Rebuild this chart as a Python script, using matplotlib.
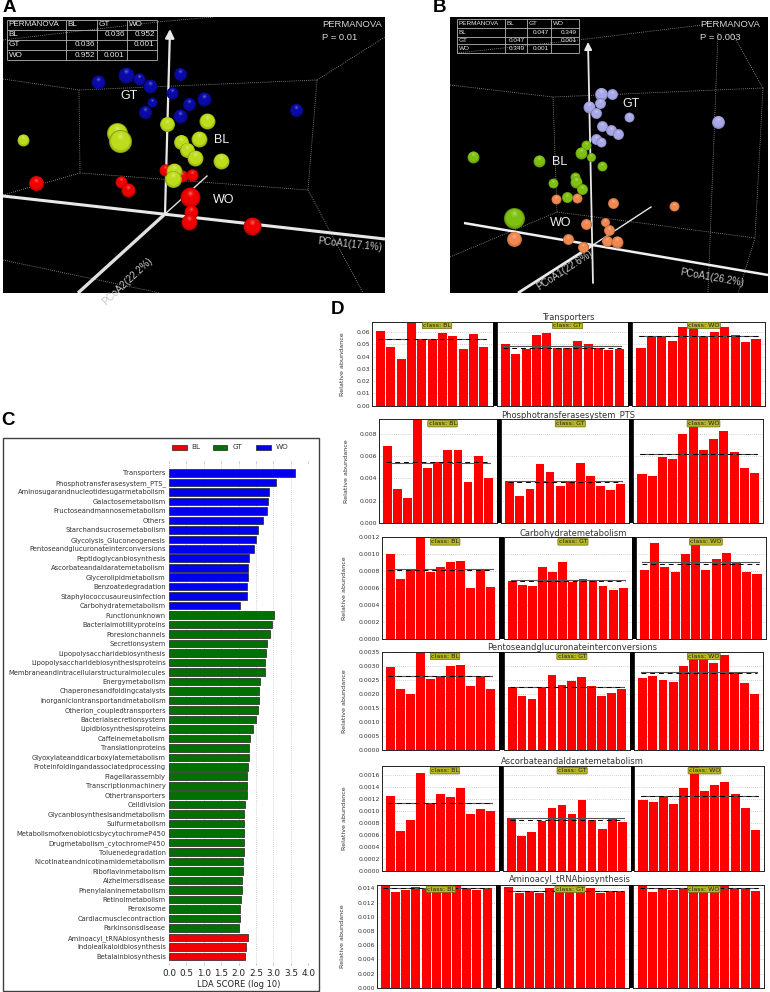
import matplotlib
matplotlib.use('Agg')
import matplotlib.pyplot as plt
from matplotlib.patches import Rectangle
import numpy as np

plt.rcParams['font.family'] = ['DejaVu Sans']

W, H = 770, 992
fig = plt.figure(figsize=(W / 100, H / 100), dpi=100, facecolor='white')

# Panel A points (projected ordination coordinates)
a_gt_x = [98, 126, 139, 150, 180, 172, 152, 145, 189, 180, 204, 296]
a_gt_y = [82, 75, 79, 86, 74, 93, 102, 112, 104, 116, 99, 110]
a_gt_r = [7, 8, 6, 7, 6.5, 6, 5, 6.5, 6.5, 7, 7, 6.5]
a_bl_x = [23, 117, 120, 167, 207, 181, 199, 187, 195, 221, 174, 173]
a_bl_y = [140, 133, 141, 124, 121, 142, 139, 150, 158, 161, 171, 179]
a_bl_r = [6, 10.5, 11.5, 7.5, 8, 7.5, 8, 7.5, 8, 8, 8, 8.5]
a_wo_x = [36, 121, 128, 165, 182, 192, 190, 191, 189, 252]
a_wo_y = [183, 182, 190, 170, 176, 175, 197, 212, 222, 226]
a_wo_r = [7.5, 6, 7, 6, 6, 6, 10, 7, 8, 9]

# Panel B points
b_gt_x = [601, 612, 600, 589, 596, 629, 602, 611, 618, 596, 601, 718]
b_gt_y = [94, 94, 103, 107, 113, 117, 126, 130, 134, 139, 142, 122]
b_gt_r = [6.5, 5.5, 5.5, 6, 5.5, 5, 5.5, 5.5, 5.5, 5.5, 5, 6.5]
b_bl_x = [473, 539, 586, 581, 591, 602, 553, 575, 576, 582, 567, 514]
b_bl_y = [157, 161, 145, 153, 157, 166, 183, 177, 182, 189, 197, 218]
b_bl_r = [6, 6, 5, 6, 4.5, 5, 5, 5, 6, 5.5, 5.5, 10.5]
b_wo_x = [556, 577, 613, 674, 586, 605, 609, 514, 568, 583, 607, 617]
b_wo_y = [199, 198, 203, 206, 224, 222, 230, 239, 239, 247, 241, 242]
b_wo_r = [5, 5, 5.5, 5, 5.5, 4.5, 5.5, 7.5, 5.5, 5.5, 5.5, 6]

# dotted wire box of the 3D views
a_box = [[(3, 79), (79, 90), (317, 80)], [(79, 90), (80, 173), (308, 190), (317, 80)],
         [(3, 195), (80, 173)], [(317, 80), (385, 37)], [(3, 40), (157, 22), (213, 17)],
         [(308, 190), (363, 293)], [(3, 260), (160, 293)]]
b_box = [[(450, 85), (553, 97), (763, 88)], [(553, 97), (557, 212)], [(763, 88), (755, 238)],
         [(557, 212), (755, 238)], [(450, 257), (557, 212)], [(763, 88), (732, 33)],
         [(457, 53), (578, 40), (702, 25)], [(718, 33), (708, 293)], [(755, 238), (738, 293)]]

table_header = ['PERMANOVA', 'BL', 'GT', 'WO']
a_table = [['BL', '', '0.036', '0.952'], ['GT', '0.036', '', '0.001'], ['WO', '0.952', '0.001', '']]
b_table = [['BL', '', '0.047', '0.349'], ['GT', '0.047', '', '0.001'], ['WO', '0.349', '0.001', '']]

# Panel C
lda_names = [
    'Transporters', 'Phosphotransferasesystem_PTS_', 'Aminosugarandnucleotidesugarmetabolism',
    'Galactosemetabolism', 'Fructoseandmannosemetabolism', 'Others', 'Starchandsucrosemetabolism',
    'Glycolysis_Gluconeogenesis', 'Pentoseandglucuronateinterconversions', 'Peptidoglycanbiosynthesis',
    'Ascorbateandaldaratemetabolism', 'Glycerolipidmetabolism', 'Benzoatedegradation',
    'Staphylococcusaureusinfection', 'Carbohydratemetabolism',
    'Functionunknown', 'Bacterialmotilityproteins', 'Poresionchannels', 'Secretionsystem',
    'Lipopolysaccharidebiosynthesis', 'Lipopolysaccharidebiosynthesisproteins',
    'Membraneandintracellularstructuralmolecules', 'Energymetabolism', 'Chaperonesandfoldingcatalysts',
    'Inorganiciontransportandmetabolism', 'Otherion_coupledtransporters', 'Bacterialsecretionsystem',
    'Lipidbiosynthesisproteins', 'Caffeinemetabolism', 'Translationproteins',
    'Glyoxylateanddicarboxylatemetabolism', 'Proteinfoldingandassociatedprocessing', 'Flagellarassembly',
    'Transcriptionmachinery', 'Othertransporters', 'Celldivision', 'Glycanbiosynthesisandmetabolism',
    'Sulfurmetabolism', 'MetabolismofxenobioticsbycytochromeP450', 'Drugmetabolism_cytochromeP450',
    'Toluenedegradation', 'Nicotinateandnicotinamidemetabolism', 'Riboflavinmetabolism',
    'Alzheimersdisease', 'Phenylalaninemetabolism', 'Retinolmetabolism', 'Peroxisome',
    'Cardiacmusclecontraction', 'Parkinsonsdisease',
    'Aminoacyl_tRNAbiosynthesis', 'Indolealkaloidbiosynthesis', 'Betalainbiosynthesis',
]
lda_wo = [3.61, 3.08, 2.88, 2.85, 2.81, 2.70, 2.555, 2.50, 2.45, 2.31, 2.28, 2.26, 2.25, 2.24, 2.04]
lda_gt = [3.01, 2.95, 2.90, 2.80, 2.79, 2.77, 2.76, 2.62, 2.59, 2.57, 2.55, 2.51, 2.40, 2.34, 2.31, 2.29,
          2.27, 2.24, 2.24, 2.23, 2.17, 2.16, 2.15, 2.15, 2.14, 2.14, 2.12, 2.115, 2.105, 2.085, 2.06,
          2.04, 2.03, 2.02]
lda_bl = [2.28, 2.20, 2.18]
lda_ticks = [0.0, 0.5, 1.0, 1.5, 2.0, 2.5, 3.0, 3.5, 4.0]

# Panel D, each feature: samples per class, then solid and dashed mean lines
d_titles = ['Transporters', 'Phosphotransferasesystem_PTS_', 'Carbohydratemetabolism',
            'Pentoseandglucuronateinterconversions', 'Ascorbateandaldaratemetabolism',
            'Aminoacyl_tRNAbiosynthesis']
d_classes = ['BL', 'GT', 'WO']
d_bl = [
    [0.061, 0.048, 0.038, 0.0735, 0.054, 0.054, 0.0595, 0.0565, 0.0465, 0.058, 0.048],
    [0.0069, 0.0031, 0.0023, 0.0095, 0.0049, 0.0055, 0.0065, 0.0065, 0.0037, 0.0060, 0.0040],
    [0.0010, 0.00071, 0.00081, 0.00125, 0.00079, 0.00085, 0.00091, 0.00092, 0.00060, 0.00082, 0.00061],
    [0.00297, 0.00217, 0.00201, 0.0036, 0.00254, 0.00262, 0.00300, 0.00302, 0.00229, 0.00262, 0.00219],
    [0.00124, 0.00066, 0.00085, 0.00163, 0.00112, 0.00127, 0.00123, 0.00138, 0.00095, 0.00102, 0.00099],
    [0.0143, 0.0135, 0.0138, 0.0142, 0.0140, 0.0140, 0.0146, 0.0146, 0.0139, 0.0138, 0.0141],
]
d_gt = [
    [0.050, 0.0425, 0.046, 0.0575, 0.059, 0.047, 0.047, 0.053, 0.050, 0.047, 0.045, 0.046],
    [0.0038, 0.0024, 0.0031, 0.0053, 0.0046, 0.0033, 0.0038, 0.0054, 0.0042, 0.0033, 0.0030, 0.0035],
    [0.00069, 0.00064, 0.00062, 0.00085, 0.00079, 0.00091, 0.00067, 0.00071, 0.00070, 0.00062, 0.00058, 0.00060],
    [0.00225, 0.00195, 0.00183, 0.00223, 0.00269, 0.00233, 0.00248, 0.00261, 0.00229, 0.00192, 0.00205, 0.00220],
    [0.00088, 0.00058, 0.00064, 0.00083, 0.00105, 0.00110, 0.00094, 0.00118, 0.00085, 0.00070, 0.00086, 0.00081],
    [0.0142, 0.0133, 0.0135, 0.0133, 0.0140, 0.0138, 0.0138, 0.0140, 0.0141, 0.0133, 0.0137, 0.0137],
]
d_wo = [
    [0.047, 0.0565, 0.056, 0.053, 0.064, 0.0645, 0.056, 0.060, 0.064, 0.0575, 0.052, 0.054],
    [0.0044, 0.0042, 0.0059, 0.0057, 0.0080, 0.0088, 0.0065, 0.0075, 0.0082, 0.0064, 0.0049, 0.0045],
    [0.00082, 0.00113, 0.00085, 0.00079, 0.00100, 0.00113, 0.00082, 0.00094, 0.00101, 0.00091, 0.00079, 0.00077],
    [0.00257, 0.00266, 0.00250, 0.00243, 0.00301, 0.00335, 0.00330, 0.00312, 0.00338, 0.00279, 0.00238, 0.00199],
    [0.00117, 0.00115, 0.00123, 0.00111, 0.00137, 0.00178, 0.00132, 0.00142, 0.00147, 0.00127, 0.00104, 0.00068],
    [0.0143, 0.0135, 0.0141, 0.0138, 0.0141, 0.0146, 0.0141, 0.0139, 0.0144, 0.0141, 0.0141, 0.0136],
]
d_solid = [[0.054, 0.049, 0.057], [0.0054, 0.0038, 0.0062], [0.00083, 0.00070, 0.00091],
           [0.00263, 0.00224, 0.00279], [0.00112, 0.00087, 0.00125], [0.0141, 0.0137, 0.0140]]
d_dashed = [[0.054, 0.047, 0.0565], [0.0055, 0.0037, 0.0062], [0.00081, 0.00069, 0.00088],
            [0.00263, 0.00224, 0.00274], [0.00112, 0.00085, 0.00125], [0.0141, 0.0137, 0.0140]]
d_ymax = [0.0684, 0.0093, 0.0012, 0.0035, 0.001744, 0.01452]
d_ystep = [0.01, 0.002, 0.0002, 0.0005, 0.0002, 0.002]
d_yfmt = ['%.2f', '%.3f', '%.4f', '%.4f', '%.4f', '%.3f']
d_ylabel_x = [342, 346, 344, 345, 344, 343]


def px_axes(left, top, right, bottom, **kwargs):
    # axes placed by its pixel box, y measured from the top of the image
    return fig.add_axes([left / W, 1 - bottom / H, (right - left) / W, (bottom - top) / H], **kwargs)


def px_rect(left, top, right, bottom, **kwargs):
    fig.add_artist(Rectangle((left / W, 1 - bottom / H), (right - left) / W, (bottom - top) / H,
                             transform=fig.transFigure, **kwargs))


def fig_text(x, y, s, **kwargs):
    fig.text(x / W, 1 - y / H, s, **kwargs)


def spheres(ax, xs, ys, rs, base, z):
    # fake the shading with shrinking discs moved towards the light
    base = np.array(matplotlib.colors.to_rgb(base))
    dark = base * 0.72
    for x, y, r in zip(xs, ys, rs):
        z += 1
        ax.scatter(x, y, s=(2 * r * 0.72) ** 2, color=dark, linewidths=0, zorder=z)
        for frac, mix in [(0.92, 0.6), (0.82, 1.0)]:
            z += 0.1
            c = dark + (base - dark) * mix
            ax.scatter(x, y - r * (1 - frac) * 0.5, s=(2 * r * frac * 0.72) ** 2, color=c, linewidths=0, zorder=z)
        for frac, mix in [(0.32, 0.12), (0.14, 0.35)]:
            z += 0.1
            c = base + (1 - base) * mix
            ax.scatter(x, y - r * 0.45, s=(2 * r * frac * 0.72) ** 2, color=c, linewidths=0, zorder=z)
    return z


def draw_table(ax, xs, ys, rows, size):
    ax.hlines(ys, xs[0], xs[-1], color='#b4b4b4', lw=0.6, zorder=60)
    ax.vlines(xs, ys[0], ys[-1], color='#b4b4b4', lw=0.6, zorder=60)
    for j, label in enumerate(table_header):
        ax.text(xs[j] + 2, (ys[0] + ys[1]) / 2, label, color='#e8e8e8', fontsize=size, va='center',
                family='Liberation Sans', zorder=61)
    for i, row in enumerate(rows):
        ymid = (ys[i + 1] + ys[i + 2]) / 2
        ax.text(xs[0] + 2, ymid, row[0], color='#e8e8e8', fontsize=size, va='center',
                family='Liberation Sans', zorder=61)
        for j in range(1, 4):
            ax.text(xs[j + 1] - 2, ymid, row[j], color='#e8e8e8', fontsize=size, va='center', ha='right',
                    family='Liberation Sans', zorder=61)


def pcoa_panel(box, wire):
    ax = px_axes(*box, facecolor='black')
    ax.set_xlim(box[0], box[2])
    ax.set_ylim(box[3], box[1])
    ax.set_xticks([])
    ax.set_yticks([])
    for s in ax.spines.values():
        s.set_visible(False)
    for seg in wire:
        ax.plot(*zip(*seg), color='#9a9a9a', lw=0.6, ls=(0, (1, 1.5)), zorder=1)
    return ax


def label3d(ax, x, y, s, size=9, **kwargs):
    ax.text(x, y, s, color=kwargs.pop('color', '#f0f0f0'), fontsize=size, family='Liberation Sans',
            ha='center', va='center', zorder=80, **kwargs)


# Panel A
fig_text(3, 8, 'A', fontsize=13.5, fontweight='bold', family='Liberation Sans', ha='left', va='center')
ax_a = pcoa_panel((3, 17, 385, 293), a_box)
ax_a.plot([3, 385], [196, 239], color='#e8e8e8', lw=2.2, zorder=3, solid_capstyle='butt')
ax_a.plot([165, 78], [214, 293], color='#e0e0e0', lw=2.4, zorder=3, solid_capstyle='butt')
ax_a.plot([165, 207], [214, 176], color='#e0e0e0', lw=1.0, zorder=3)
ax_a.annotate('', xy=(170, 29), xytext=(165, 214), zorder=3,
              arrowprops=dict(arrowstyle='-|>', color='#e8e8e8', lw=1.6, shrinkA=0, shrinkB=0, mutation_scale=13))
z = spheres(ax_a, a_wo_x, a_wo_y, a_wo_r, '#f00000', 5)
z = spheres(ax_a, a_gt_x, a_gt_y, a_gt_r, '#0a0aa8', z)
spheres(ax_a, a_bl_x, a_bl_y, a_bl_r, '#bcdc1c', z)
label3d(ax_a, 129, 96, 'GT')
label3d(ax_a, 222, 140, 'BL')
label3d(ax_a, 224, 200, 'WO')
label3d(ax_a, 350, 244, 'PCoA1(17.1%)', size=7, color='#c8c8c8', rotation=-6)
label3d(ax_a, 127, 281, 'PCoA2(22.2%)', size=7, color='#c8c8c8', rotation=43)
ax_a.text(322, 24, 'PERMANOVA', color='#d8d8d8', fontsize=6.8, family='Liberation Sans', va='center')
ax_a.text(322, 37, 'P = 0.01', color='#d8d8d8', fontsize=6.8, family='Liberation Sans', va='center')
draw_table(ax_a, [6.7, 65.7, 96.7, 126.7, 156.7], [19.5, 30, 39.5, 50, 60], a_table, 5.9)

# Panel B
fig_text(433, 8, 'B', fontsize=13.5, fontweight='bold', family='Liberation Sans', ha='left', va='center')
ax_b = pcoa_panel((450, 17, 768, 293), b_box)
ax_b.plot([464, 768], [223, 275], color='#f0f0f0', lw=1.8, zorder=3, solid_capstyle='butt')
ax_b.plot([518, 593], [293, 245], color='#e8e8e8', lw=2.0, zorder=3, solid_capstyle='butt')
ax_b.plot([593, 651], [245, 207], color='#e8e8e8', lw=1.0, zorder=3)
ax_b.annotate('', xy=(588, 42), xytext=(593, 283), zorder=3,
              arrowprops=dict(arrowstyle='-|>', color='#e8e8e8', lw=1.3, shrinkA=0, shrinkB=0, mutation_scale=11))
z = spheres(ax_b, b_wo_x, b_wo_y, b_wo_r, '#f08850', 5)
z = spheres(ax_b, b_gt_x, b_gt_y, b_gt_r, '#a8a8e8', z)
spheres(ax_b, b_bl_x, b_bl_y, b_bl_r, '#7ec010', z)
label3d(ax_b, 631, 104, 'GT')
label3d(ax_b, 560, 162, 'BL')
label3d(ax_b, 561, 223, 'WO')
label3d(ax_b, 565, 270, 'PCoA1(22.6%)', size=7, color='#c8c8c8', rotation=33)
label3d(ax_b, 712, 278, 'PCoA1(26.2%)', size=7, color='#c8c8c8', rotation=-10)
ax_b.text(700, 24, 'PERMANOVA', color='#d8d8d8', fontsize=6.8, family='Liberation Sans', va='center')
ax_b.text(700, 37, 'P = 0.003', color='#d8d8d8', fontsize=6.8, family='Liberation Sans', va='center')
draw_table(ax_b, [457, 505, 527, 551, 579], [19, 28, 37, 44, 53], b_table, 4.6)

# Panel C
fig_text(1, 421, 'C', fontsize=13.5, fontweight='bold', family='Liberation Sans', ha='left', va='center')
px_rect(3, 437.5, 319, 991, facecolor='white', edgecolor='#404040', lw=1.0, zorder=-1)
ax_c = px_axes(169, 463, 308.3, 963)
lda_vals = lda_wo + lda_gt + lda_bl
lda_cols = ['#0000ee'] * len(lda_wo) + ['#007000'] * len(lda_gt) + ['#f00000'] * len(lda_bl)
lda_pos = np.arange(len(lda_vals))
ax_c.barh(lda_pos, lda_vals, height=0.8, color=lda_cols, edgecolor='#222222', linewidth=0.5, zorder=3)
ax_c.set_xlim(0, 4)
ax_c.set_ylim(51.7, -1.05)
ax_c.set_yticks(lda_pos)
ax_c.set_yticklabels(lda_names, fontsize=4.85, color='#333333')
ax_c.set_xticks(lda_ticks)
ax_c.set_xticklabels(['%.1f' % t for t in lda_ticks], fontsize=6.4, color='#222222')
ax_c.set_xlabel('LDA SCORE (log 10)', fontsize=6.0, color='#222222', labelpad=1.5)
ax_c.tick_params(axis='y', length=0, pad=2.3)
ax_c.tick_params(axis='x', length=1.5, width=0.4, color='#888888', pad=2.5, top=True)
ax_c.xaxis.grid(True, color='#aaaaaa', lw=0.5, ls=(0, (1, 2)), zorder=0)
for s in ax_c.spines.values():
    s.set_visible(False)

# legend of panel C
for x0, name, col in [(172, 'BL', '#f00000'), (213, 'GT', '#007000'), (256, 'WO', '#0000ee')]:
    px_rect(x0, 444.5, x0 + 14.5, 449.5, facecolor=col, edgecolor='#222222', lw=0.5)
    fig_text(x0 + 19.5, 447, name, fontsize=5.2, color='#333333', va='center')

# Panel D
fig_text(331, 310, 'D', fontsize=13.5, fontweight='bold', family='Liberation Sans', ha='left', va='center')
d_edges = [
    (371.7, 492.7, 496.7, 628, 632, 765, 321.7, 405.7, 568, 318),
    (379, 496.7, 501.3, 629, 633.3, 763.3, 419, 523.3, 570, 415),
    (381.7, 499.3, 504, 631.7, 635.7, 765.7, 537.3, 639, 573, 533),
    (381.7, 499, 503.7, 630, 634, 763.3, 652, 750.3, 572, 648),
    (381.7, 498.7, 503.3, 630.7, 634.3, 764.3, 766, 870.7, 572, 762),
    (376.7, 495.7, 500.3, 629.3, 633.3, 764.3, 884.7, 987.7, 570, 880),
]
for row, edges in enumerate(d_edges):
    l, a, b, c, d, r, top, bottom, tx, ty = edges
    px_rect(a, top, b, bottom, facecolor='black', edgecolor='none')
    px_rect(c, top, d, bottom, facecolor='black', edgecolor='none')
    fig_text(tx, ty, d_titles[row], fontsize=6.0, color='#333333', ha='center', va='center')
    boxes = [(l, a), (b, c), (d, r)]
    series = [d_bl[row], d_gt[row], d_wo[row]]
    for k, (x0, x1) in enumerate(boxes):
        ax = px_axes(x0, top, x1, bottom)
        vals = series[k]
        n = len(vals)
        ax.bar(np.arange(n), vals, width=0.88, color='#ff0000', linewidth=0, zorder=2)
        ax.plot([-0.2, n - 0.8], [d_solid[row][k]] * 2, color='#555555', lw=0.8, zorder=3)
        ax.plot([-0.2, n - 0.8], [d_dashed[row][k]] * 2, color='black', lw=0.7, ls=(0, (5, 4)), zorder=3)
        ax.set_xlim(-0.85, n - 0.15)
        ax.set_ylim(0, d_ymax[row])
        ax.set_xticks([])
        ticks = np.arange(0, d_ymax[row] + d_ystep[row] * 0.01, d_ystep[row])
        ax.set_yticks(ticks)
        ax.grid(True, axis='y', color='#aaaaaa', lw=0.5, ls=(0, (1, 2)), zorder=0)
        ax.tick_params(axis='y', length=0, pad=1.2, labelsize=4.4, labelcolor='#333333')
        if k == 0:
            ax.set_yticklabels([d_yfmt[row] % t for t in ticks])
            fig_text(d_ylabel_x[row], (top + bottom) / 2, 'Relative abundance', fontsize=4.6, color='#333333',
                     rotation=90, ha='center', va='center')
        else:
            ax.set_yticklabels([])
        ax.text(0.54, 0.955, 'class: ' + d_classes[k], transform=ax.transAxes, fontsize=4.6, color='#222222',
                ha='center', va='center', zorder=5,
                bbox=dict(boxstyle='round,pad=0.12', facecolor='#b8b820', edgecolor='#555500', lw=0.4))
        for s in ax.spines.values():
            s.set_linewidth(0.7)
            s.set_color('#222222')

fig.savefig('out.png', dpi=100, facecolor='white')
